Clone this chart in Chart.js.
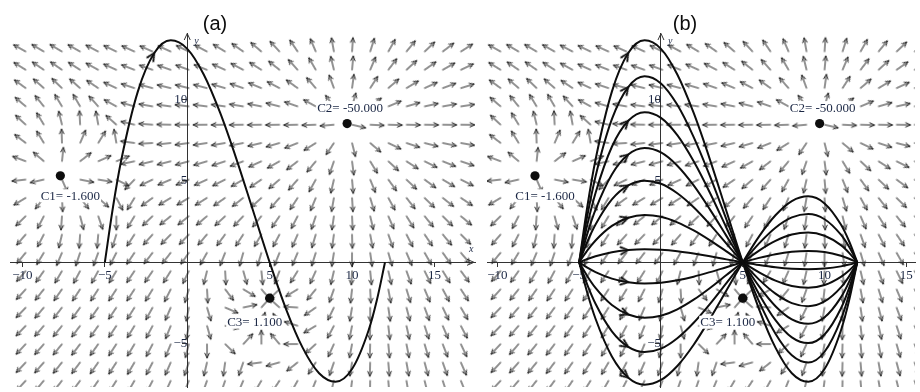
<!DOCTYPE html>
<html>
<head>
<meta charset="utf-8">
<script src="https://cdn.jsdelivr.net/npm/chart.js@4.4.0/dist/chart.umd.min.js"></script>
<style>
  html, body { margin: 0; padding: 0; background: #ffffff; }
  #wrap { position: relative; width: 920px; height: 392px; overflow: hidden; }
  canvas { position: absolute; top: 0; }
  #panelA { left: 0; }
  #panelB { left: 480px; }
</style>
</head>
<body>
<div id="wrap">
  <canvas id="panelA" width="480" height="392"></canvas>
  <canvas id="panelB" width="440" height="392"></canvas>
</div>
<script>
// ---- point charges ----
const chargeNames = ['C1', 'C2', 'C3'];
const chargeX = [-7.7, 9.7, 5.0];
const chargeY = [5.3, 8.5, -2.2];
const chargeQ = [-1.6, -50.0, 1.1];
const falloff = 2.75;   // field strength ~ q / r^falloff

// ---- direction-field sample grid (arrow tails) ----
const fieldX = [-9.8, -8.7, -7.6, -6.5, -5.4, -4.3, -3.2, -2.1, -1.0, 0.1, 1.2, 2.3, 3.4,
                4.5, 5.6, 6.7, 7.8, 8.9, 10.0, 11.1, 12.2, 13.3, 14.4, 15.5, 16.6];
const fieldY = [12.91, 11.79, 10.67, 9.55, 8.43, 7.31, 6.19, 5.07, 3.95, 2.83, 1.71, 0.59,
                -0.53, -1.65, -2.77, -3.89, -5.01, -6.13, -7.25];

// ---- trajectories ----
const curveX = [-5, -4.5, -4, -3, -2, -1, 0, 1, 2, 3, 4, 5, 6, 7, 8, 9, 10, 11, 11.5, 12];
const curveA = [0, 3.42, 6.28, 10.46, 12.82, 13.6, 13.08, 11.51, 9.15, 6.28, 3.14, 0,
                -2.88, -5.23, -6.8, -7.32, -6.54, -4.18, -2.34, 0];
const familyB = [
  [0, 3.42, 6.28, 10.46, 12.82, 13.6, 13.08, 11.51, 9.15, 6.28, 3.14, 0, -2.88, -5.23, -6.8, -7.32, -6.54, -4.18, -2.34, 0],
  [0, 2.86, 5.26, 8.77, 10.74, 11.4, 10.96, 9.65, 7.67, 5.26, 2.63, 0, -2.41, -4.38, -5.7, -6.14, -5.48, -3.51, -1.96, 0],
  [0, 2.31, 4.25, 7.08, 8.67, 9.2, 8.85, 7.79, 6.19, 4.25, 2.12, 0, -1.95, -3.54, -4.6, -4.95, -4.42, -2.83, -1.58, 0],
  [0, 1.76, 3.23, 5.38, 6.6, 7.0, 6.73, 5.92, 4.71, 3.23, 1.62, 0, -1.48, -2.69, -3.5, -3.77, -3.37, -2.15, -1.2, 0],
  [0, 1.26, 2.31, 3.85, 4.71, 5.0, 4.81, 4.23, 3.37, 2.31, 1.15, 0, -1.06, -1.92, -2.5, -2.69, -2.4, -1.54, -0.86, 0],
  [0, 0.73, 1.34, 2.23, 2.73, 2.9, 2.79, 2.45, 1.95, 1.34, 0.67, 0, -0.61, -1.12, -1.45, -1.56, -1.39, -0.89, -0.5, 0],
  [0, 0.2, 0.37, 0.62, 0.75, 0.8, 0.77, 0.68, 0.54, 0.37, 0.18, 0, -0.17, -0.31, -0.4, -0.43, -0.38, -0.25, -0.14, 0],
  [0, -0.33, -0.6, -1.0, -1.22, -1.3, -1.25, -1.1, -0.88, -0.6, -0.3, 0, 0.27, 0.5, 0.65, 0.7, 0.63, 0.4, 0.22, 0],
  [0, -0.85, -1.57, -2.62, -3.2, -3.4, -3.27, -2.88, -2.29, -1.57, -0.78, 0, 0.72, 1.31, 1.7, 1.83, 1.63, 1.05, 0.58, 0],
  [0, -1.38, -2.54, -4.23, -5.18, -5.5, -5.29, -4.65, -3.7, -2.54, -1.27, 0, 1.16, 2.12, 2.75, 2.96, 2.64, 1.69, 0.95, 0],
  [0, -1.88, -3.46, -5.77, -7.07, -7.5, -7.21, -6.35, -5.05, -3.46, -1.73, 0, 1.59, 2.88, 3.75, 4.04, 3.61, 2.31, 1.29, 0]
];
const arrowAtX = -2;   // where the direction marker sits on each trajectory

// ---- axis ticks ----
const xTicks = [-10, -5, 5, 10, 15];
const yTicks = [-5, 5, 10];

// ---- styling / layout ----
const INK = '#0d0d0d';
const FIELD_INK = '#262626';
const LABEL_INK = '#1b2744';
const AXIS_INK = '#333333';
const SERIF = '"Liberation Serif", "Times New Roman", serif';
const labelOffset = [[10, 20], [3, -16], [-15, 24]];

// field vector at a point: sources for negative charges, sinks for positive ones
function fieldAt(px, py) {
  let ex = 0, ey = 0;
  for (let i = 0; i < chargeQ.length; i++) {
    const dx = px - chargeX[i], dy = py - chargeY[i];
    const r = Math.hypot(dx, dy) || 1e-6;
    const s = -chargeQ[i] / Math.pow(r, falloff + 1);
    ex += s * dx; ey += s * dy;
  }
  return [ex, ey];
}

const fieldPoints = [];
const fieldAngles = [];
fieldY.forEach(fy => fieldX.forEach(fx => {
  const [ex, ey] = fieldAt(fx, fy);
  fieldPoints.push({ x: fx, y: fy });
  fieldAngles.push(Math.atan2(-ey, ex) * 180 / Math.PI);
}));

// sprite for one field arrow: tail at the sprite centre, pointing right
function arrowSprite(len) {
  const w = 2 * (len + 3), h = 12;
  const c = document.createElement('canvas');
  c.width = w; c.height = h;
  const g = c.getContext('2d');
  const cx = w / 2, cy = h / 2;
  g.strokeStyle = FIELD_INK; g.lineWidth = 1; g.lineCap = 'round'; g.lineJoin = 'round';
  g.beginPath();
  g.moveTo(cx, cy); g.lineTo(cx + len, cy);
  g.moveTo(cx + len - 4.8, cy - 2.2); g.lineTo(cx + len, cy); g.lineTo(cx + len - 4.8, cy + 2.2);
  g.stroke();
  return c;
}
// chevron marking the direction of travel on a trajectory, tip at centre
function chevronSprite() {
  const c = document.createElement('canvas');
  c.width = 18; c.height = 18;
  const g = c.getContext('2d');
  g.strokeStyle = INK; g.lineWidth = 1.9; g.lineCap = 'round'; g.lineJoin = 'round';
  g.beginPath();
  g.moveTo(1.5, 5.4); g.lineTo(9, 9); g.lineTo(1.5, 12.6);
  g.stroke();
  return c;
}
const fieldArrow = arrowSprite(14);
const chevron = chevronSprite();
const arrowIdx = curveX.indexOf(arrowAtX);

function curveDataset(ys) {
  return {
    data: curveX.map((x, i) => ({ x, y: ys[i] })),
    showLine: true,
    borderColor: INK,
    borderWidth: 2,
    fill: false,
    cubicInterpolationMode: 'monotone',
    pointStyle: chevron,
    pointRadius: ctx => (ctx.dataIndex === arrowIdx ? 5 : 0),
    rotation: ctx => {
      const i = ctx.dataIndex;
      const a = Math.max(i - 1, 0), b = Math.min(i + 1, ys.length - 1);
      return Math.atan2(-(ys[b] - ys[a]), curveX[b] - curveX[a]) * 180 / Math.PI;
    },
    order: 2
  };
}

const fmt = v => (v < 0 ? '\u2212' + Math.abs(v) : String(v));

const decorations = {
  id: 'decorations',
  afterDatasetsDraw(chart, args, opts) {
    const { ctx, chartArea } = chart;
    const sx = chart.scales.x, sy = chart.scales.y;
    const x0 = sx.getPixelForValue(0), y0 = sy.getPixelForValue(0);
    ctx.save();
    // axis arrowheads
    ctx.strokeStyle = AXIS_INK; ctx.lineWidth = 1;
    ctx.beginPath();
    ctx.moveTo(x0 - 3, chartArea.top + 7); ctx.lineTo(x0, chartArea.top + 0.5); ctx.lineTo(x0 + 3, chartArea.top + 7);
    if (opts.xArrow) {
      const r = chartArea.right - 1;
      ctx.moveTo(r - 7, y0 - 3); ctx.lineTo(r, y0); ctx.lineTo(r - 7, y0 + 3);
    }
    ctx.stroke();
    // axis names
    ctx.fillStyle = LABEL_INK;
    ctx.font = 'italic 10px ' + SERIF;
    ctx.textAlign = 'left'; ctx.textBaseline = 'middle';
    ctx.fillText('y', x0 + 7, chartArea.top + 8);
    if (opts.xArrow) ctx.fillText('x', chartArea.right - 6, y0 - 13);
    // charge labels on white backing
    ctx.font = '13px ' + SERIF;
    ctx.textAlign = 'center';
    chargeNames.forEach((name, i) => {
      const px = sx.getPixelForValue(chargeX[i]) + labelOffset[i][0];
      const py = sy.getPixelForValue(chargeY[i]) + labelOffset[i][1];
      const text = name + '= ' + chargeQ[i].toFixed(3);
      const w = ctx.measureText(text).width;
      ctx.fillStyle = '#ffffff';
      ctx.fillRect(px - w / 2 - 1, py - 6.5, w + 2, 13);
      ctx.fillStyle = LABEL_INK;
      ctx.fillText(text, px, py + 0.5);
    });
    // panel title
    ctx.fillStyle = INK;
    ctx.font = '20px "Liberation Sans", Arial, sans-serif';
    ctx.fillText(opts.title, opts.titleX, 24);
    ctx.restore();
  }
};

function zeroFit(scale) {
  if (scale.isHorizontal()) scale.height = 0; else scale.width = 0;
  scale.paddingLeft = scale.paddingRight = scale.paddingTop = scale.paddingBottom = 0;
}

function buildPanel(id, pad, xmin, xmax, curves, deco) {
  const datasets = [
    {
      data: fieldPoints,
      pointStyle: fieldArrow,
      pointRadius: 2,
      rotation: ctx => fieldAngles[ctx.dataIndex],
      showLine: false,
      order: 3
    },
    ...curves.map(curveDataset),
    {
      data: chargeX.map((x, i) => ({ x, y: chargeY[i] })),
      pointStyle: 'circle',
      pointRadius: 4.6,
      backgroundColor: INK,
      borderWidth: 0,
      showLine: false,
      order: 1
    }
  ];
  return new Chart(document.getElementById(id), {
    type: 'scatter',
    data: { datasets },
    options: {
      responsive: false,
      animation: false,
      events: [],
      layout: { padding: pad },
      plugins: { legend: { display: false }, tooltip: { enabled: false }, decorations: deco },
      scales: {
        x: {
          type: 'linear', axis: 'x', min: xmin, max: xmax,
          position: { y: 0 },
          afterFit: zeroFit,
          afterBuildTicks: s => { s.ticks = xTicks.map(v => ({ value: v })); },
          border: { display: true, color: AXIS_INK, width: 1 },
          grid: { drawOnChartArea: false, drawTicks: true, tickLength: 4, color: AXIS_INK },
          ticks: { autoSkip: false, maxRotation: 0, padding: 1, color: LABEL_INK,
                   font: { family: SERIF, size: 13 }, callback: fmt }
        },
        y: {
          type: 'linear', axis: 'y', min: -7.64, max: 14.05,
          position: { x: 0 },
          afterFit: zeroFit,
          afterBuildTicks: s => { s.ticks = yTicks.map(v => ({ value: v })); },
          border: { display: true, color: AXIS_INK, width: 1 },
          grid: { drawOnChartArea: false, drawTicks: true, tickLength: 5, color: AXIS_INK },
          ticks: { autoSkip: false, padding: 1, color: LABEL_INK,
                   font: { family: SERIF, size: 13 }, callback: fmt }
        }
      }
    },
    plugins: [decorations]
  });
}

buildPanel('panelA', { left: 10, right: 3, top: 33, bottom: 0 }, -10.755, 17.46, [curveA],
           { title: '(a)', titleX: 215, xArrow: true });
buildPanel('panelB', { left: 7, right: 0, top: 33, bottom: 0 }, -10.634, 15.529, familyB,
           { title: '(b)', titleX: 205, xArrow: false });
</script>
</body>
</html>
